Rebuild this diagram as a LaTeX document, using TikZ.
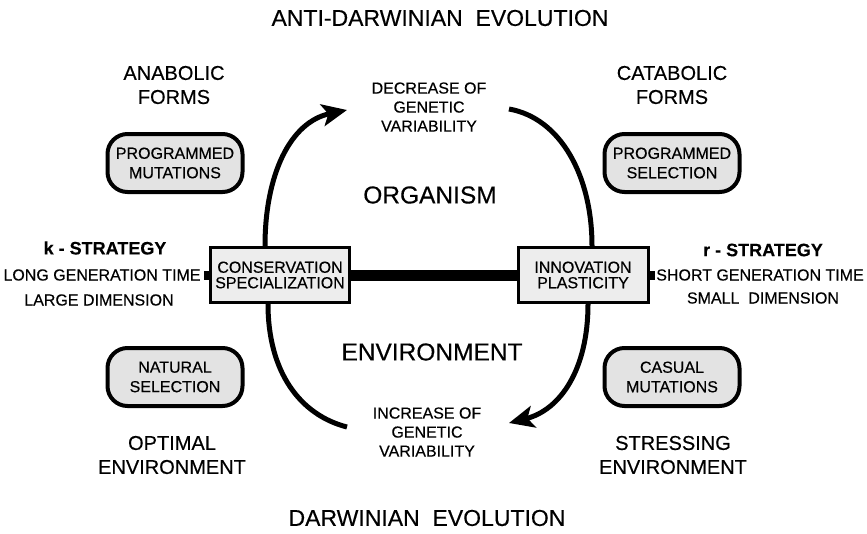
\documentclass[tikz,border=0pt]{standalone}
\usepackage{fontspec}
\setmainfont{Liberation Sans}[FakeBold=0.35]
\setsansfont{Liberation Sans}
\usetikzlibrary{arrows.meta}
\begin{document}
\begin{tikzpicture}[x=1pt,y=-1pt,
  title/.style={inner sep=0pt, font=\fontsize{23}{27}\selectfont},
  head/.style={align=center, inner sep=0pt, font=\fontsize{20}{24}\selectfont},
  big/.style={inner sep=0pt, font=\fontsize{24.5}{28}\selectfont},
  small/.style={align=center, inner sep=0pt, font=\fontsize{16}{19}\selectfont},
  strat/.style={inner sep=0pt, font=\fontsize{18}{22}\selectfont\bfseries},
  trait/.style={inner sep=0pt, font=\fontsize{16}{19}\selectfont},
  rbox/.style={draw, line width=4pt, rounded corners=20pt, fill=black!11,
    align=center, minimum width=135pt, minimum height=58pt, inner sep=0pt,
    font=\fontsize{16}{19.5}\selectfont},
  sqbox/.style={draw, line width=3pt, fill=black!7, align=center,
    minimum height=55pt, inner sep=0pt, font=\fontsize{16}{15.5}\selectfont},
  stub/.style={fill=black, minimum width=5pt, minimum height=9pt, inner sep=0pt},
  loop/.style={line width=5pt},
  tip/.style={-{Stealth[length=25pt,width=22pt,inset=6pt]}}
]
\useasboundingbox (0,0) rectangle (867,533);

% titles
\node[title] (anti) at (440,18) {ANTI-DARWINIAN\ \ EVOLUTION};
\node[title] (darw) at (427,518) {DARWINIAN\ \ EVOLUTION};

% corner headings
\node[head] (anab) at (174,85) {ANABOLIC\\FORMS};
\node[head] (catab) at (672,85) {CATABOLIC\\FORMS};
\node[head] (opt) at (172,455) {OPTIMAL\\ENVIRONMENT};
\node[head] (stress) at (673,455) {STRESSING\\ENVIRONMENT};

% rounded boxes
\node[rbox] (pm) at (175,163) {PROGRAMMED\\MUTATIONS};
\node[rbox] (ps) at (672,163) {PROGRAMMED\\SELECTION};
\node[rbox] (ns) at (175,377) {NATURAL\\SELECTION};
\node[rbox] (cm) at (672,377) {CASUAL\\MUTATIONS};

% strategies
\node[strat] (kstr) at (105,248) {k - STRATEGY};
\node[trait] (klong) at (102,275) {LONG GENERATION TIME};
\node[trait] (klarge) at (99,300) {LARGE DIMENSION};
\node[strat] (rstr) at (763,250) {r - STRATEGY};
\node[trait] (rshort) at (760,275) {SHORT GENERATION TIME};
\node[trait] (rsmall) at (763,298) {SMALL\ \ DIMENSION};

% central axis
\node[sqbox, minimum width=139pt] (cons) at (280,275) {CONSERVATION\\SPECIALIZATION};
\node[sqbox, minimum width=130pt] (innov) at (583,275) {INNOVATION\\PLASTICITY};
\draw[line width=11pt] (cons.east) -- (innov.west);
\node[stub, anchor=east] (lstub) at (cons.west) {};
\node[stub, anchor=west] (rstub) at (innov.east) {};

% central labels
\node[big] (org) at (430,195) {ORGANISM};
\node[big] (env) at (432,352) {ENVIRONMENT};
\node[small] (dec) at (429,107) {DECREASE OF\\GENETIC\\VARIABILITY};
\node[small] (inc) at (427,432) {INCREASE OF\\GENETIC\\VARIABILITY};

% cycle
\coordinate (tlS) at ([xshift=-15pt]cons.north);
\coordinate (tlE) at (347,110);
\coordinate (trS) at (509,109);
\coordinate (trE) at ([xshift=9pt]innov.north);
\coordinate (blS) at ([xshift=-12pt]cons.south);
\coordinate (blE) at (347,427);
\coordinate (brS) at ([xshift=5pt]innov.south);
\coordinate (brE) at (509,423);
\draw[loop, tip] (tlS) .. controls (265,175) and (290,122) .. (tlE);
\draw[loop] (trS) .. controls (560,118) and (592,175) .. (trE);
\draw[loop] (blS) .. controls (268,372) and (300,415) .. (blE);
\draw[loop, tip] (brS) .. controls (588,370) and (560,410) .. (brE);
\end{tikzpicture}
\end{document}
